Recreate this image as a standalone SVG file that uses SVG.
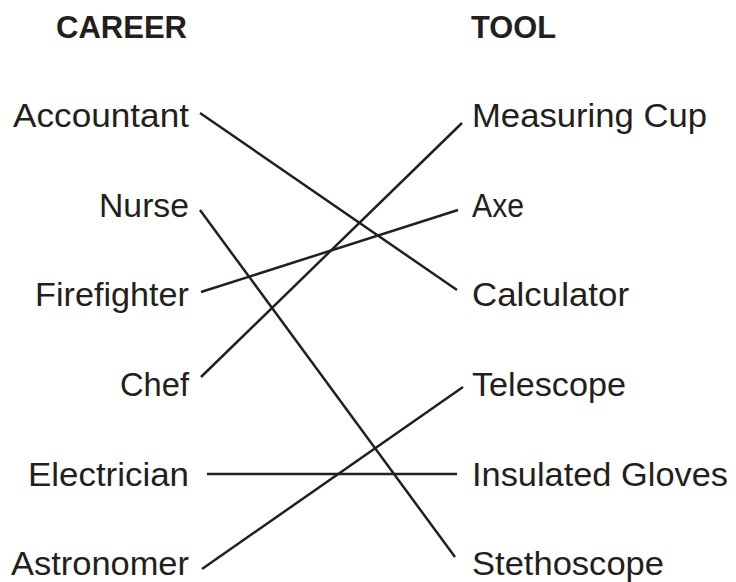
<svg xmlns="http://www.w3.org/2000/svg" width="736" height="582" viewBox="0 0 736 582">
<style>
text{font-family:"Liberation Sans",Arial,sans-serif;fill:#231f20}
.h{font-size:32px;font-weight:bold}
.l{font-size:34px;text-anchor:end}
.r{font-size:34px}
.c line{stroke:#231f20;stroke-width:2.5;stroke-linecap:butt}
</style>
<rect width="736" height="582" fill="#fff"/>
<g id="headers">
<text class="h" x="56" y="38" textLength="131" lengthAdjust="spacingAndGlyphs">CAREER</text>
<text class="h" x="471" y="38" textLength="85" lengthAdjust="spacingAndGlyphs">TOOL</text>
</g>
<g id="career-accountant"><text class="l" x="189" y="127" textLength="176" lengthAdjust="spacingAndGlyphs">Accountant</text></g>
<g id="career-nurse"><text class="l" x="189" y="217" textLength="90" lengthAdjust="spacingAndGlyphs">Nurse</text></g>
<g id="career-firefighter"><text class="l" x="189" y="306" textLength="154" lengthAdjust="spacingAndGlyphs">Firefighter</text></g>
<g id="career-chef"><text class="l" x="189" y="396" textLength="69" lengthAdjust="spacingAndGlyphs">Chef</text></g>
<g id="career-electrician"><text class="l" x="189" y="486" textLength="161" lengthAdjust="spacingAndGlyphs">Electrician</text></g>
<g id="career-astronomer"><text class="l" x="189" y="575" textLength="178" lengthAdjust="spacingAndGlyphs">Astronomer</text></g>
<g id="tool-measuring-cup"><text class="r" x="472" y="127" textLength="235" lengthAdjust="spacingAndGlyphs">Measuring Cup</text></g>
<g id="tool-axe"><text class="r" x="472" y="217" textLength="52" lengthAdjust="spacingAndGlyphs">Axe</text></g>
<g id="tool-calculator"><text class="r" x="472" y="306" textLength="157" lengthAdjust="spacingAndGlyphs">Calculator</text></g>
<g id="tool-telescope"><text class="r" x="472" y="396" textLength="154" lengthAdjust="spacingAndGlyphs">Telescope</text></g>
<g id="tool-insulated-gloves"><text class="r" x="472" y="486" textLength="256" lengthAdjust="spacingAndGlyphs">Insulated Gloves</text></g>
<g id="tool-stethoscope"><text class="r" x="472" y="575" textLength="192" lengthAdjust="spacingAndGlyphs">Stethoscope</text></g>
<g id="connectors" class="c">
<line x1="200" y1="113" x2="457" y2="290"/>
<line x1="201" y1="377" x2="462" y2="123"/>
<line x1="200" y1="210" x2="455" y2="557"/>
<line x1="201" y1="292" x2="458" y2="210"/>
<line x1="207" y1="474" x2="457" y2="474"/>
<line x1="202" y1="569" x2="463" y2="387"/>
</g>
</svg>
